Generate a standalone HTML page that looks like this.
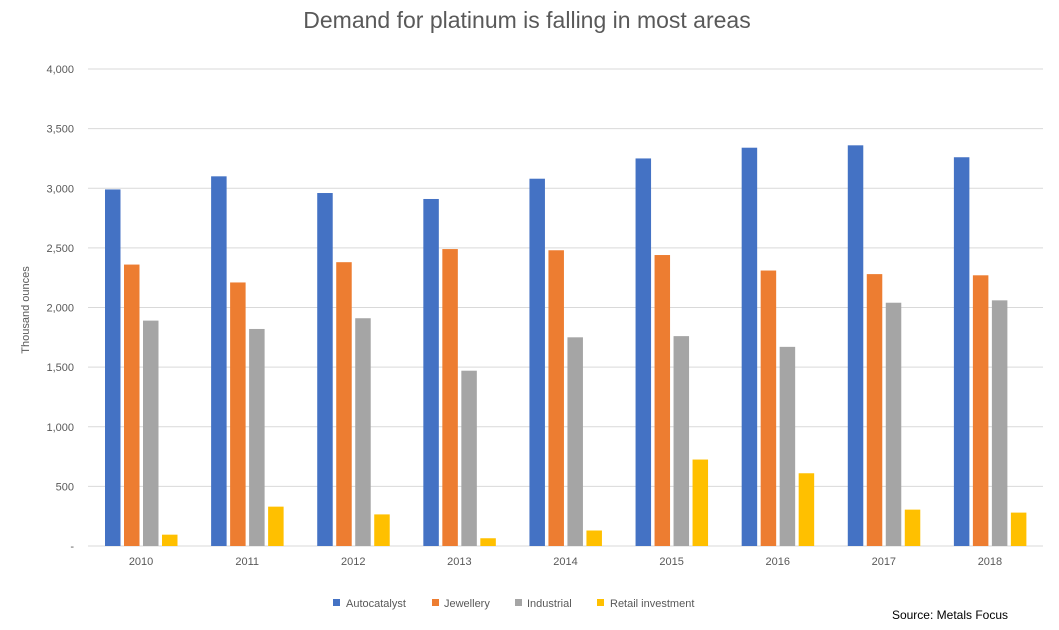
<!DOCTYPE html>
<html><head><meta charset="utf-8"><style>
html,body{margin:0;padding:0;background:#fff;}
svg{display:block;font-family:"Liberation Sans",sans-serif;}
</style></head><body>
<svg id="chart" width="1059" height="630">
<text x="527" y="28" text-anchor="middle" font-size="23" fill="#595959">Demand for platinum is falling in most areas</text>
<text transform="translate(29,310) rotate(-90)" text-anchor="middle" font-size="11" fill="#595959">Thousand ounces</text>
<g id="grid"></g><g id="bars"></g><g id="xlabels"></g>
<g font-size="11" fill="#595959">
<rect x="333" y="599" width="7" height="7" fill="#4472C4"/><text x="346" y="607">Autocatalyst</text>
<rect x="432" y="599" width="7" height="7" fill="#ED7D31"/><text x="444" y="607">Jewellery</text>
<rect x="515" y="599" width="7" height="7" fill="#A5A5A5"/><text x="527" y="607">Industrial</text>
<rect x="597" y="599" width="7" height="7" fill="#FFC000"/><text x="610" y="607">Retail investment</text>
</g>
<text x="1008" y="619" text-anchor="end" font-size="12" fill="#000">Source: Metals Focus</text>
</svg>
<script>
const years=["2010","2011","2012","2013","2014","2015","2016","2017","2018"];
const autocatalyst=[2990,3100,2960,2910,3080,3250,3340,3360,3260];
const jewellery=[2360,2210,2380,2490,2480,2440,2310,2280,2270];
const industrial=[1890,1820,1910,1470,1750,1760,1670,2040,2060];
const retail=[95,330,265,65,130,725,610,305,280];
const yTicks=[0,500,1000,1500,2000,2500,3000,3500,4000];
const yTickLabels=["-","500","1,000","1,500","2,000","2,500","3,000","3,500","4,000"];
const NS="http://www.w3.org/2000/svg";
const x0=88,x1=1043,yBase=546,yTop=69,yMax=4000;
const y=v=>yBase-(v/yMax)*(yBase-yTop);
const gw=(x1-x0)/years.length;
const grid=document.getElementById('grid'),bars=document.getElementById('bars'),xl=document.getElementById('xlabels');
function mk(t,a){const e=document.createElementNS(NS,t);for(const k in a)e.setAttribute(k,a[k]);return e;}
yTicks.forEach((v,i)=>{
 const l=mk('line',{x1:x0,x2:x1,y1:y(v),y2:y(v),stroke:'#d9d9d9','stroke-width':1});
 
 
 grid.appendChild(l);
 const t=mk('text',{x:74,y:y(v)+4,'text-anchor':'end','font-size':11,fill:'#595959'});
 
 
 t.textContent=yTickLabels[i];grid.appendChild(t);
});
const series=[[autocatalyst,'#4472C4','autocatalyst'],[jewellery,'#ED7D31','jewellery'],[industrial,'#A5A5A5','industrial'],[retail,'#FFC000','retail']];
years.forEach((yr,i)=>{
 const gx=x0+gw*i;
 series.forEach((s,j)=>{
  const v=s[0][i];
  const r=mk('rect',{x:gx+17+j*19,y:y(v),width:15.5,height:yBase-y(v),fill:s[1]});
  
  
  bars.appendChild(r);
 });
 const t=mk('text',{x:gx+gw/2,y:565,'text-anchor':'middle','font-size':11,fill:'#595959'});
 
 
 t.textContent=yr;xl.appendChild(t);
});
</script>
</body></html>
